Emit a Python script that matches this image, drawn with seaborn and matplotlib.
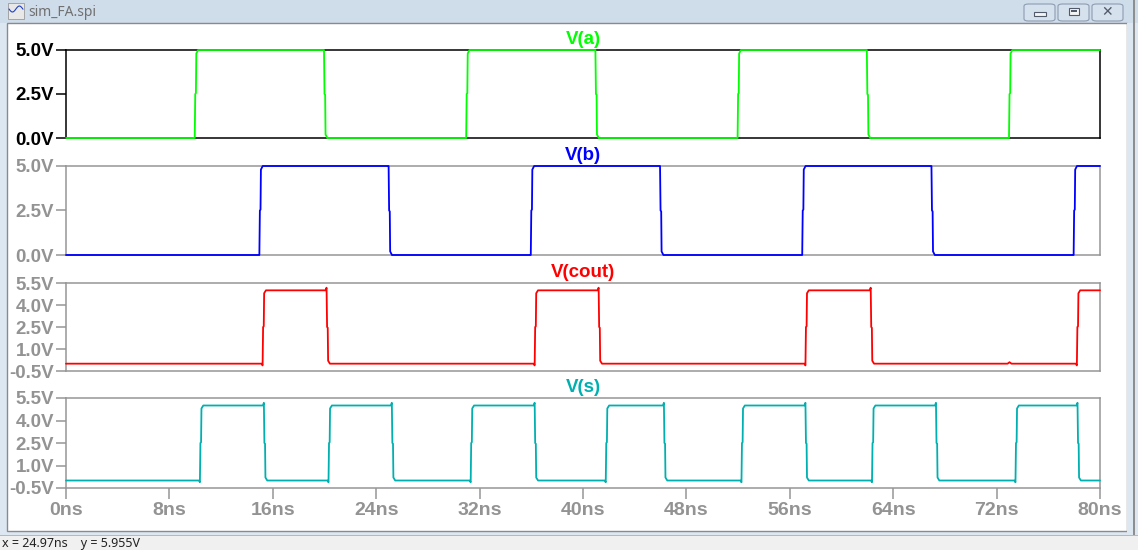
import numpy as np
import pandas as pd
import matplotlib
matplotlib.use("Agg")
import matplotlib.pyplot as plt
from matplotlib.patches import Rectangle, FancyBboxPatch
from matplotlib.ticker import FuncFormatter
import seaborn as sns

# ---------------- data ----------------
t_end_ns = 80.0
a_edges_ns = [10.0, 20.0, 31.0, 41.0, 52.0, 62.0, 73.0]          # V(a) toggles, starts low
b_edges_ns = [15.0, 25.0, 36.0, 46.0, 57.0, 67.0, 78.0]          # V(b) toggles, starts low
cout_edges_ns = [15.25, 20.2, 36.3, 41.25, 57.25, 62.3, 78.25]   # V(cout) toggles, starts low
s_edges_ns = [10.4, 15.35, 20.35, 25.25, 31.35, 36.3, 41.8, 46.3,
              52.3, 57.25, 62.4, 67.35, 73.5, 78.3]               # V(s) toggles, starts low
low_v = 0.0
high_v = 5.0
out_undershoot_v = 0.12
out_overshoot_v = 0.18
cout_glitch_ns = [73.0]
cout_glitch_v = [0.1]

titles = ["V(a)", "V(b)", "V(cout)", "V(s)"]
colors = ["#00ff00", "#0000ff", "#ff0000", "#00b0b0"]
ylims = [(0.0, 5.0), (0.0, 5.0), (-0.5, 5.5), (-0.5, 5.5)]
yticks = [[0.0, 2.5, 5.0], [0.0, 2.5, 5.0],
          [-0.5, 1.0, 2.5, 4.0, 5.5], [-0.5, 1.0, 2.5, 4.0, 5.5]]
xticks_ns = [0, 8, 16, 24, 32, 40, 48, 56, 64, 72, 80]
status_text = "x = 24.97ns    y = 5.955V"
window_title = "sim_FA.spi"


def build_wave(edges, lo, hi, t_end, under=0.0, over=0.0, glitch_t=(), glitch_v=()):
    mid = (lo + hi) / 2
    pts = [(0.0, lo)]
    level = lo
    # level in each interval, for glitches
    for e in edges:
        if level == lo:
            pts += [(e - 0.12, lo), (e - 0.04, lo - under), (e, mid), (e + 0.05, mid + 0.05),
                    (e + 0.08, hi - 0.2), (e + 0.22, hi)]
            level = hi
        else:
            pts += [(e - 0.12, hi), (e - 0.04, hi + over), (e, mid), (e + 0.05, mid - 0.05),
                    (e + 0.08, lo + 0.2), (e + 0.22, lo)]
            level = lo
    for gt, gv in zip(glitch_t, glitch_v):
        n_before = sum(1 for e in edges if e < gt)
        lv = lo if n_before % 2 == 0 else hi
        pts += [(gt - 0.15, lv), (gt, lv + gv), (gt + 0.15, lv)]
    pts.append((t_end, level))
    pts.sort(key=lambda p: p[0])
    return pd.DataFrame(pts, columns=["t", "v"])


waves = [
    build_wave(a_edges_ns, low_v, high_v, t_end_ns),
    build_wave(b_edges_ns, low_v, high_v, t_end_ns),
    build_wave(cout_edges_ns, low_v, high_v, t_end_ns, out_undershoot_v, out_overshoot_v,
               cout_glitch_ns, cout_glitch_v),
    build_wave(s_edges_ns, low_v, high_v, t_end_ns, out_undershoot_v, out_overshoot_v),
]

# ---------------- figure ----------------
sns.set_style("white")
plt.rcParams["font.family"] = ["Liberation Sans", "DejaVu Sans"]

W, H = 1138, 550
fig = plt.figure(figsize=(W / 100, H / 100), dpi=100)
fig.patch.set_facecolor("#dde7f2")


def prect(x, y, w, h, **kw):
    r = Rectangle((x / W, 1 - (y + h) / H), w / W, h / H, transform=fig.transFigure, **kw)
    fig.add_artist(r)
    return r


# window chrome
prect(0, 0, W, 23, facecolor="#cfdcea", edgecolor="none", zorder=0)
prect(7, 23, 1120, 508, facecolor="white", edgecolor="#8a8a8a", linewidth=1.0, zorder=0)
prect(1127, 23, 11, 510, facecolor="#dde7f2", edgecolor="none", zorder=0)
prect(1133, 0, 1.5, 535, facecolor="#8e8e8e", edgecolor="none", zorder=0)
prect(0, 536, W, 14, facecolor="#f0f0f0", edgecolor="none", zorder=0)
prect(0, 535, W, 1, facecolor="#b8b8b8", edgecolor="none", zorder=0)
fig.text(2 / W, 1 - 543.5 / H, status_text, fontsize=9, color="#222222",
         family=["Noto Sans", "DejaVu Sans"], ha="left", va="center")
fig.text(28 / W, 1 - 12 / H, window_title, fontsize=10, color="#707070",
         family=["Noto Sans", "DejaVu Sans"], ha="left", va="center")
# tiny title icon
prect(8, 3, 16, 16, facecolor="#e8e8e8", edgecolor="#9a9a9a", linewidth=0.6)
ix = np.linspace(9, 23, 20)
fig.add_artist(plt.Line2D(ix / W, 1 - (9 + 3 * np.sin((ix - 9) / 2.2)) / H,
                          transform=fig.transFigure, color="#2040c0", lw=0.8))
# window buttons
for bx, sym in [(1024, "min"), (1058, "max"), (1092, "close")]:
    b = FancyBboxPatch((bx / W, 1 - 21 / H), 31 / W, 17 / H,
                       boxstyle="round,pad=0,rounding_size=0.004",
                       transform=fig.transFigure, facecolor="#d6e1ee",
                       edgecolor="#8d9cb1", linewidth=0.8)
    fig.add_artist(b)
    cx = bx + 15.5
    if sym == "min":
        prect(cx - 6, 12, 12, 4, facecolor="#f4f4f4", edgecolor="#505a68", linewidth=0.8)
    elif sym == "max":
        prect(cx - 5, 8, 10, 7, facecolor="#f4f4f4", edgecolor="#505a68", linewidth=0.8)
        prect(cx - 3, 10, 6, 2, facecolor="#505a68", edgecolor="none")
    else:
        fig.text(cx / W, 1 - 12.5 / H, "\u2715", fontsize=10, color="#505a68",
                 ha="center", va="center", family=["DejaVu Sans"], fontweight="bold")

# panels: (top px, bottom px)
panel_px = [(50, 138), (166, 255), (283, 371), (398, 488)]
x0, x1 = 66, 1100
grey = "#969696"
label_grey = "#939393"

axes = []
for i, (top, bot) in enumerate(panel_px):
    ax = fig.add_axes([x0 / W, 1 - bot / H, (x1 - x0) / W, (bot - top) / H])
    ax.set_facecolor("none")
    axes.append(ax)
    df = waves[i]
    sns.lineplot(data=df, x="t", y="v", ax=ax, color=colors[i], linewidth=1.3,
                 estimator=None, sort=False, zorder=3, clip_on=False)
    frame_c = "black" if i == 0 else grey
    lab_c = "black" if i == 0 else label_grey
    for sp in ax.spines.values():
        sp.set_visible(True)
        sp.set_color(frame_c)
        sp.set_linewidth(1.1)
    ax.set_xlim(0, t_end_ns)
    ax.set_ylim(*ylims[i])
    ax.set_yticks(yticks[i])
    ax.yaxis.set_major_formatter(FuncFormatter(lambda v, p: f"{v:.1f}V"))
    ax.tick_params(axis="y", which="both", left=True, direction="out", length=7.5,
                   width=1.1, color=frame_c, labelcolor=lab_c, labelsize=13.5, pad=1)
    for lab in ax.get_yticklabels():
        lab.set_fontweight("bold")
    ax.set_xlabel("")
    ax.set_ylabel("")
    ax.set_title(titles[i], color=colors[i], fontsize=13.5, fontweight="bold", pad=4)
    if i < 3:
        ax.set_xticks([])
    else:
        ax.set_xticks(xticks_ns)
        ax.set_xticklabels([f"{t}ns" for t in xticks_ns])
        ax.tick_params(axis="x", bottom=True, direction="out", length=8, width=1.1,
                       color=grey, labelcolor=label_grey, labelsize=14, pad=2)
        for lab in ax.get_xticklabels():
            lab.set_fontweight("bold")

fig.savefig("out.png", dpi=100, facecolor=fig.get_facecolor())
